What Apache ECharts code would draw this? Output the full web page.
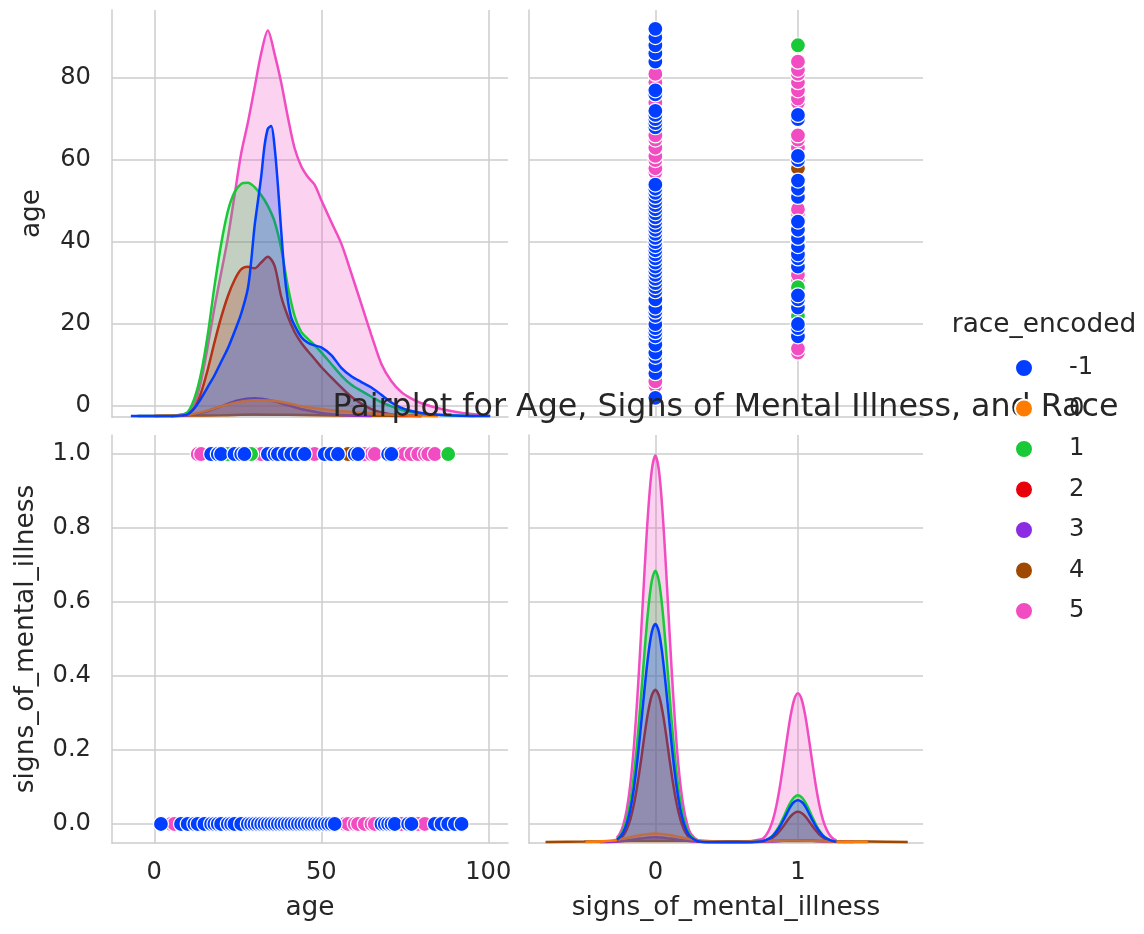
<!DOCTYPE html>
<html><head><meta charset="utf-8">
<script src="https://cdn.jsdelivr.net/npm/echarts@6/dist/echarts.min.js"></script>
<style>html,body{margin:0;padding:0;background:#fff}#c{width:1144px;height:934px}</style>
</head><body><div id="c"></div>
<script>
// ---------------- data ----------------
const raceLabels = ['-1', '0', '1', '2', '3', '4', '5'];

// tick labels
const ageXTicks = [0, 50, 100];
const ageYTicks = [0, 20, 40, 60, 80];
const signsXTicks = [0, 1];
const signsYTicks = [0.0, 0.2, 0.4, 0.6, 0.8, 1.0];

// scatter: ages of records with signs_of_mental_illness = 0, per race
const ages0_raceM1 = [2, 8, 10, 12, 13, 15, 17, 18, 19, 20, 22, 23, 24, 26, 28, 29, 30, 31, 32, 33, 34, 35, 36, 37, 38, 39, 40, 41, 42, 43, 44, 45, 46, 47, 48, 49, 50, 51, 52, 53, 54, 68, 69, 70, 71, 72, 76, 77, 84, 86, 88, 90, 92];
const ages0_race0 = [30];
const ages0_race1 = [13, 14, 16, 25, 26];
const ages0_race2 = [16, 24, 31, 44];
const ages0_race3 = [27, 33];
const ages0_race4 = [35];
const ages0_race5 = [5, 6, 21, 27, 57, 58, 60, 61, 63, 65, 66, 74, 79, 81];
// scatter: ages of records with signs_of_mental_illness = 1, per race
const ages1_raceM1 = [17, 19, 20, 24, 26, 27, 34, 36, 37, 39, 41, 43, 45, 51, 53, 55, 60, 61, 70, 71];
const ages1_race0 = [];
const ages1_race1 = [22, 29, 88];
const ages1_race2 = [23, 40];
const ages1_race3 = [46];
const ages1_race4 = [58];
const ages1_race5 = [13, 14, 30, 31, 32, 47, 48, 62, 63, 65, 66, 74, 75, 77, 79, 81, 82, 84];

// KDE of age (relative density), per race: [age, density]
const kdeAge_raceM1 = [[-7,0],[0,0],[5,0],[8,0.001],[10,0.004],[12,0.02],[14,0.045],[16,0.075],[18,0.105],[20,0.14],[22,0.175],[24,0.218],[26,0.265],[28,0.33],[29,0.4],[30,0.49],[31,0.555],[32,0.62],[33,0.7],[34,0.745],[35,0.752],[36,0.7],[37,0.6],[38,0.48],[39,0.37],[40,0.3],[41,0.255],[42,0.235],[44,0.205],[46,0.19],[48,0.183],[50,0.178],[53,0.158],[56,0.125],[59,0.103],[62,0.088],[65,0.074],[68,0.055],[71,0.035],[74,0.021],[77,0.013],[80,0.008],[85,0.003],[90,0.001],[95,0],[100.6,0]];
const kdeAge_race0 = [[0,0],[5,0.001],[10,0.003],[15,0.012],[20,0.025],[25,0.036],[30,0.041],[35,0.04],[40,0.033],[45,0.024],[50,0.018],[55,0.013],[60,0.01],[65,0.007],[70,0.004],[75,0.002],[80,0.001],[85,0]];
const kdeAge_race1 = [[-5,0],[0,0],[5,0.001],[8,0.003],[10,0.01],[12,0.045],[14,0.11],[16,0.21],[18,0.335],[20,0.445],[22,0.53],[24,0.58],[26,0.602],[28,0.605],[30,0.594],[32,0.573],[34,0.545],[36,0.505],[38,0.435],[40,0.335],[42,0.26],[44,0.218],[46,0.2],[48,0.184],[50,0.165],[53,0.135],[56,0.105],[59,0.081],[62,0.065],[65,0.05],[68,0.036],[71,0.025],[74,0.016],[77,0.01],[80,0.006],[85,0.003],[90,0.001],[96,0]];
const kdeAge_race2 = [[0,0],[5,0],[8,0.002],[10,0.005],[12,0.02],[14,0.06],[16,0.12],[18,0.19],[20,0.255],[22,0.31],[24,0.352],[26,0.38],[28,0.387],[30,0.383],[32,0.398],[34,0.413],[36,0.39],[38,0.31],[40,0.258],[42,0.218],[44,0.19],[46,0.168],[48,0.148],[50,0.127],[53,0.1],[56,0.074],[59,0.05],[62,0.032],[65,0.018],[68,0.009],[71,0.004],[75,0.001],[80,0]];
const kdeAge_race3 = [[5,0],[10,0.002],[15,0.01],[20,0.025],[25,0.04],[30,0.046],[35,0.04],[40,0.028],[45,0.016],[50,0.008],[55,0.003],[60,0.001],[65,0]];
const kdeAge_race4 = [[5,0],[10,0.001],[20,0.002],[30,0.004],[40,0.003],[50,0.002],[60,0.001],[70,0.0005],[80,0]];
const kdeAge_race5 = [[-5,0],[0,0],[5,0.001],[8,0.003],[10,0.008],[12,0.03],[14,0.09],[16,0.18],[18,0.28],[20,0.37],[22,0.46],[24,0.57],[26,0.68],[28,0.76],[30,0.85],[32,0.94],[34,1.0],[36,0.94],[38,0.865],[40,0.775],[42,0.695],[44,0.648],[46,0.62],[48,0.6],[50,0.56],[53,0.503],[56,0.447],[59,0.37],[62,0.29],[65,0.21],[68,0.135],[71,0.09],[74,0.062],[77,0.045],[80,0.033],[85,0.02],[90,0.011],[95,0.005],[100,0.001]];

// KDE of signs_of_mental_illness (relative density), per race: [value, density]
const kdeSigns_raceM1 = [[-0.27,0.006],[-0.25,0.012],[-0.225,0.025],[-0.2,0.048],[-0.175,0.085],[-0.15,0.14],[-0.125,0.215],[-0.1,0.304],[-0.075,0.399],[-0.05,0.483],[-0.025,0.543],[0,0.564],[0.025,0.543],[0.05,0.483],[0.075,0.399],[0.1,0.304],[0.125,0.215],[0.15,0.14],[0.175,0.085],[0.2,0.048],[0.225,0.025],[0.25,0.012],[0.3,0.002],[0.35,0],[0.65,0],[0.7,0.0005],[0.75,0.002],[0.775,0.005],[0.8,0.009],[0.825,0.016],[0.85,0.027],[0.875,0.041],[0.9,0.058],[0.925,0.076],[0.95,0.093],[0.975,0.104],[1,0.108],[1.025,0.104],[1.05,0.093],[1.075,0.076],[1.1,0.058],[1.125,0.041],[1.15,0.027],[1.175,0.016],[1.2,0.009],[1.225,0.005],[1.25,0.002],[1.27,0.001]];
const kdeSigns_race0 = [[-0.49,0.0003],[-0.4,0.0011],[-0.3,0.004],[-0.2,0.0104],[-0.1,0.018],[0,0.022],[0.1,0.018],[0.2,0.0105],[0.3,0.0045],[0.4,0.0017],[0.5,0.0008],[0.6,0.001],[0.7,0.0018],[0.8,0.0026],[0.9,0.0034],[1,0.004],[1.1,0.0033],[1.2,0.0019],[1.3,0.0008],[1.4,0.0002],[1.49,0.0001]];
const kdeSigns_race1 = [[-0.27,0.008],[-0.25,0.015],[-0.225,0.031],[-0.2,0.06],[-0.175,0.106],[-0.15,0.175],[-0.125,0.267],[-0.1,0.378],[-0.075,0.496],[-0.05,0.602],[-0.025,0.675],[0,0.702],[0.025,0.675],[0.05,0.602],[0.075,0.496],[0.1,0.378],[0.125,0.267],[0.15,0.175],[0.175,0.106],[0.2,0.06],[0.225,0.031],[0.25,0.015],[0.3,0.003],[0.35,0],[0.65,0],[0.7,0.0005],[0.75,0.003],[0.775,0.005],[0.8,0.01],[0.825,0.018],[0.85,0.03],[0.875,0.046],[0.9,0.065],[0.925,0.086],[0.95,0.104],[0.975,0.116],[1,0.121],[1.025,0.116],[1.05,0.104],[1.075,0.086],[1.1,0.065],[1.125,0.046],[1.15,0.03],[1.175,0.018],[1.2,0.01],[1.225,0.005],[1.25,0.003],[1.27,0.001]];
const kdeSigns_race2 = [[-0.27,0.004],[-0.25,0.008],[-0.225,0.017],[-0.2,0.033],[-0.175,0.059],[-0.15,0.098],[-0.125,0.15],[-0.1,0.212],[-0.075,0.279],[-0.05,0.338],[-0.025,0.379],[0,0.394],[0.025,0.379],[0.05,0.338],[0.075,0.279],[0.1,0.212],[0.125,0.15],[0.15,0.098],[0.175,0.059],[0.2,0.033],[0.225,0.017],[0.25,0.008],[0.3,0.001],[0.35,0],[0.65,0],[0.7,0.0004],[0.75,0.002],[0.775,0.003],[0.8,0.007],[0.825,0.012],[0.85,0.019],[0.875,0.03],[0.9,0.042],[0.925,0.055],[0.95,0.067],[0.975,0.075],[1,0.078],[1.025,0.075],[1.05,0.067],[1.075,0.055],[1.1,0.042],[1.125,0.03],[1.15,0.019],[1.175,0.012],[1.2,0.007],[1.225,0.003],[1.25,0.002],[1.27,0.001]];
const kdeSigns_race3 = [[-0.39,0.0001],[-0.3,0.0008],[-0.2,0.0037],[-0.1,0.0089],[0,0.012],[0.1,0.0089],[0.2,0.0037],[0.3,0.001],[0.5,0.0001],[0.7,0.0003],[0.8,0.0012],[0.9,0.003],[1,0.004],[1.1,0.003],[1.2,0.0012],[1.3,0.0003],[1.39,0.0001]];
const kdeSigns_race4 = [[-0.77,0.0002],[-0.5,0.001],[-0.25,0.002],[0,0.003],[0.25,0.0025],[0.5,0.002],[0.75,0.0025],[1,0.003],[1.25,0.002],[1.5,0.001],[1.77,0.0002]];
const kdeSigns_race5 = [[-0.27,0.011],[-0.25,0.021],[-0.225,0.044],[-0.2,0.085],[-0.175,0.151],[-0.15,0.249],[-0.125,0.381],[-0.1,0.539],[-0.075,0.707],[-0.05,0.857],[-0.025,0.962],[0,1.0],[0.025,0.962],[0.05,0.857],[0.075,0.707],[0.1,0.539],[0.125,0.381],[0.15,0.249],[0.175,0.151],[0.2,0.085],[0.225,0.044],[0.25,0.021],[0.3,0.004],[0.35,0.0005],[0.4,0],[0.6,0],[0.65,0.0005],[0.7,0.004],[0.75,0.008],[0.775,0.017],[0.8,0.033],[0.825,0.058],[0.85,0.096],[0.875,0.147],[0.9,0.208],[0.925,0.272],[0.95,0.33],[0.975,0.37],[1,0.385],[1.025,0.37],[1.05,0.33],[1.075,0.272],[1.1,0.208],[1.125,0.147],[1.15,0.096],[1.175,0.058],[1.2,0.033],[1.225,0.017],[1.25,0.008],[1.27,0.004]];

// ---------------- assembly ----------------
const ages0 = [ages0_raceM1, ages0_race0, ages0_race1, ages0_race2, ages0_race3, ages0_race4, ages0_race5];
const ages1 = [ages1_raceM1, ages1_race0, ages1_race1, ages1_race2, ages1_race3, ages1_race4, ages1_race5];
const kdeAge = [kdeAge_raceM1, kdeAge_race0, kdeAge_race1, kdeAge_race2, kdeAge_race3, kdeAge_race4, kdeAge_race5];
const kdeSigns = [kdeSigns_raceM1, kdeSigns_race0, kdeSigns_race1, kdeSigns_race2, kdeSigns_race3, kdeSigns_race4, kdeSigns_race5];

const palette = ['#023eff', '#ff7c00', '#1ac938', '#e8000b', '#8b2be2', '#9f4800', '#f14cc1'];
const FONT = '"DejaVu Sans", sans-serif';
const TXT = '#262626';
const GRIDC = '#cccccc';

const AGE_X = [-12.65, 105.9];
const AGE_Y = [-2.68, 96.6];
const SIG_X = [-0.886, 1.877];
const SIG_Y = [-0.0514, 1.0514];
const DENS = [-0.0026, 1.053];

function fmt(ticks, dec) {
  return function (v) {
    for (const t of ticks) { if (Math.abs(t - v) < 1e-6) return t.toFixed(dec); }
    return '';
  };
}
function ax(o) {
  const base = {
    type: 'value',
    axisTick: { show: false },
    axisLine: { show: true, onZero: false, lineStyle: { color: GRIDC, width: 1.5 } },
    splitLine: { show: true, showMinLine: false, showMaxLine: false, lineStyle: { color: GRIDC, width: 1.5 } },
    axisLabel: { show: false },
    nameTextStyle: { fontSize: 26.4, fontFamily: FONT, color: TXT },
    nameLocation: 'middle'
  };
  return Object.assign(base, o);
}
function lbl(margin, ticks, dec) {
  return { show: true, fontSize: 24.2, fontFamily: FONT, color: TXT, margin: margin, formatter: fmt(ticks, dec), showMinLabel: true, showMaxLabel: true };
}

const xAxis = [
  ax({ gridIndex: 0, min: AGE_X[0], max: AGE_X[1], minInterval: 50, maxInterval: 50 }),
  ax({ gridIndex: 1, min: SIG_X[0], max: SIG_X[1], minInterval: 1, maxInterval: 1 }),
  ax({ gridIndex: 2, min: AGE_X[0], max: AGE_X[1], minInterval: 50, maxInterval: 50, axisLabel: lbl(18, ageXTicks, 0), name: 'age', nameGap: 52 }),
  ax({ gridIndex: 3, min: SIG_X[0], max: SIG_X[1], minInterval: 1, maxInterval: 1, axisLabel: lbl(18, signsXTicks, 0), name: 'signs_of_mental_illness', nameGap: 52 })
];
const yAxis = [
  ax({ gridIndex: 0, min: AGE_Y[0], max: AGE_Y[1], minInterval: 20, maxInterval: 20, axisLabel: lbl(21, ageYTicks, 0), name: 'age', nameGap: 67 }),
  { gridIndex: 0, type: 'value', show: false, min: DENS[0], max: DENS[1] },
  ax({ gridIndex: 1, min: AGE_Y[0], max: AGE_Y[1], minInterval: 20, maxInterval: 20 }),
  ax({ gridIndex: 2, min: SIG_Y[0], max: SIG_Y[1], minInterval: 0.2, maxInterval: 0.2, axisLabel: lbl(21, signsYTicks, 1), name: 'signs_of_mental_illness', nameGap: 73 }),
  ax({ gridIndex: 3, min: SIG_Y[0], max: SIG_Y[1], minInterval: 0.2, maxInterval: 0.2 }),
  { gridIndex: 3, type: 'value', show: false, min: DENS[0], max: DENS[1] }
];

const series = [];
const scatterOrder = [1, 5, 4, 3, 6, 2, 0];
const kdeOrder = [6, 5, 4, 3, 2, 1, 0];
function scat(i, k, xi, yi, mk) {
  const d = ages0[i].map(a => mk(a, 0)).concat(ages1[i].map(a => mk(a, 1)));
  return {
    type: 'scatter', name: raceLabels[i], xAxisIndex: xi, yAxisIndex: yi, data: d, z: 2 + k,
    symbol: 'circle', symbolSize: 15, silent: true,
    itemStyle: { color: palette[i], borderColor: '#ffffff', borderWidth: 1.2, opacity: 1 }
  };
}
function kde(i, k, xi, yi, data) {
  return {
    type: 'line', name: raceLabels[i], xAxisIndex: xi, yAxisIndex: yi, data: data, z: 2 + k,
    showSymbol: false, symbol: 'none', smooth: 0.3, silent: true,
    lineStyle: { color: palette[i], width: 2.5 }, itemStyle: { color: palette[i] },
    areaStyle: { color: palette[i], opacity: 0.25 }
  };
}
// top-right: x = signs, y = age ; bottom-left: x = age, y = signs
scatterOrder.forEach((i, k) => series.push(scat(i, k, 1, 2, (a, s) => [s, a])));
scatterOrder.forEach((i, k) => series.push(scat(i, k, 2, 3, (a, s) => [a, s])));
kdeOrder.forEach((i, k) => series.push(kde(i, k, 0, 1, kdeAge[i])));
kdeOrder.forEach((i, k) => series.push(kde(i, k, 3, 5, kdeSigns[i])));

const option = {
  animation: false,
  backgroundColor: '#ffffff',
  textStyle: { fontFamily: FONT },
  grid: [
    { left: 112, top: 10, width: 396, height: 407 },
    { left: 529, top: 10, width: 394, height: 407 },
    { left: 112, top: 435, width: 396, height: 408 },
    { left: 529, top: 435, width: 394, height: 408 }
  ],
  xAxis: xAxis,
  yAxis: yAxis,
  legend: {
    data: raceLabels, orient: 'vertical', left: 1014, top: 356, padding: 0, z: 20,
    itemWidth: 80, itemHeight: 18, itemGap: 16.5, icon: 'circle', selectedMode: false,
    textStyle: { fontSize: 24.2, fontFamily: FONT, color: TXT }
  },
  graphic: [
    { type: 'text', x: 1044, y: 325, z: 15,
      style: { text: 'race_encoded', fontSize: 26.4, fontFamily: FONT, fill: TXT, align: 'center', verticalAlign: 'middle', textAlign: 'center', textVerticalAlign: 'middle' } },
    { type: 'text', x: 725.5, y: 408, z: 15,
      style: { text: 'Pairplot for Age, Signs of Mental Illness, and Race', fontSize: 31.7, fontFamily: FONT, fill: TXT, align: 'center', verticalAlign: 'middle', textAlign: 'center', textVerticalAlign: 'middle' } }
  ],
  series: series
};
const chart = echarts.init(document.getElementById('c'), null, { renderer: 'canvas' });
chart.setOption(option);
</script></body></html>
